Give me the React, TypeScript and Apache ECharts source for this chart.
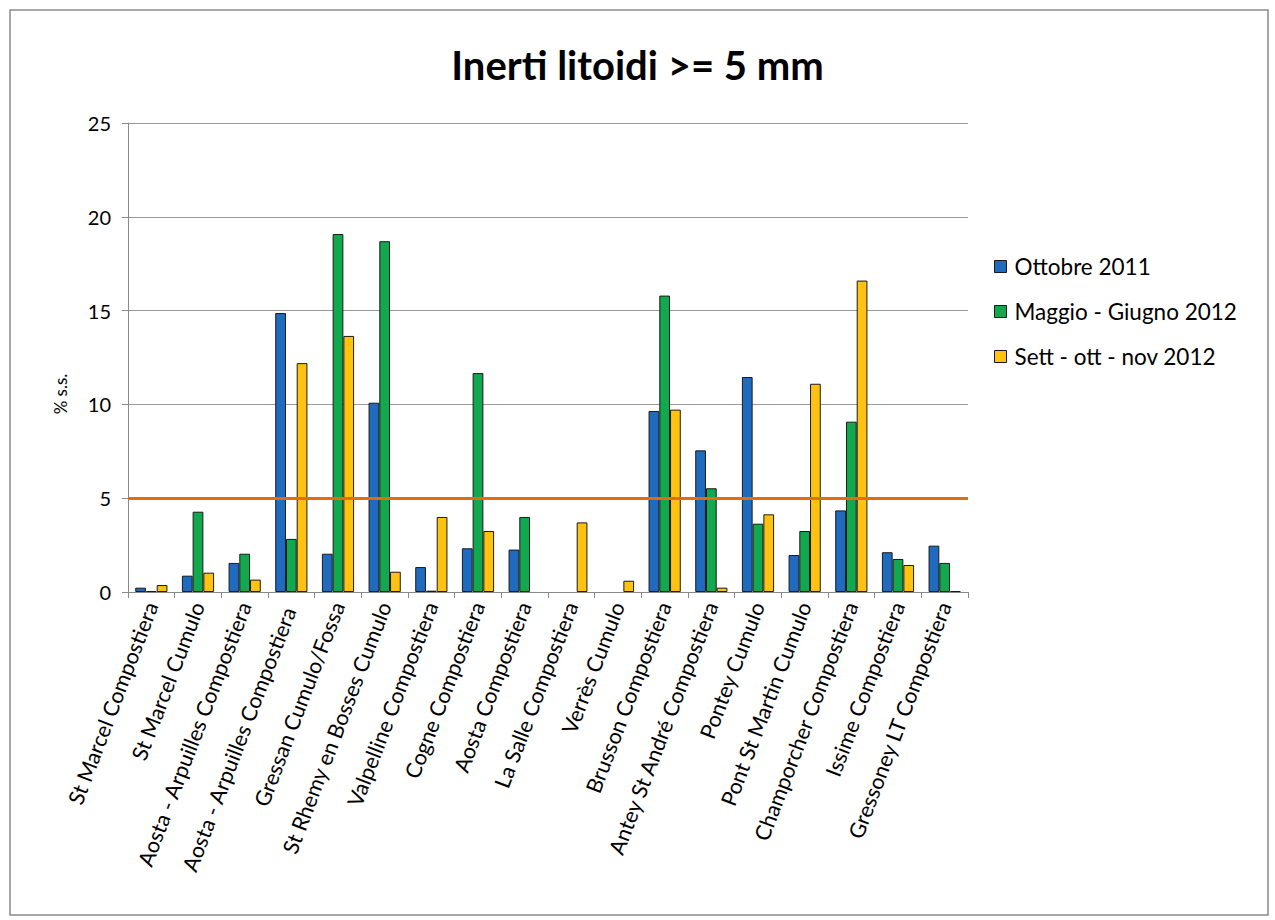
import React, { useEffect, useRef } from "react";
import * as echarts from "echarts";

const categories = [
  "St Marcel Compostiera",
  "St Marcel Cumulo",
  "Aosta - Arpuilles Compostiera",
  "Aosta - Arpuilles Compostiera ",
  "Gressan Cumulo/Fossa",
  "St Rhemy en Bosses Cumulo",
  "Valpelline Compostiera",
  "Cogne Compostiera",
  "Aosta Compostiera",
  "La Salle Compostiera",
  "Verrès Cumulo",
  "Brusson Compostiera",
  "Antey St André Compostiera",
  "Pontey Cumulo",
  "Pont St Martin Cumulo",
  "Champorcher Compostiera",
  "Issime Compostiera",
  "Gressoney LT Compostiera",
];

const ottobre2011 = [0.23, 0.87, 1.55, 14.87, 2.04, 10.09, 1.33, 2.33, 2.26, null, null, 9.65, 7.55, 11.46, 1.97, 4.35, 2.12, 2.47];
const maggioGiugno2012 = [0.05, 4.28, 2.04, 2.83, 19.08, 18.7, 0.07, 11.67, 4.0, null, null, 15.8, 5.53, 3.64, 3.25, 9.08, 1.76, 1.55];
const settOttNov2012 = [0.37, 1.03, 0.66, 12.2, 13.65, 1.08, 4.0, 3.25, null, 3.71, 0.6, 9.72, 0.23, 4.14, 11.1, 16.6, 1.44, 0.05];

const seriesNames = ["Ottobre 2011", "Maggio - Giugno 2012", "Sett - ott - nov 2012"];
const seriesColors = ["#1F6BC0", "#11A84E", "#FFC20E"];
const threshold = 5;
const yTicks = { min: 0, max: 25, interval: 5 };
const yAxisTitle = "% s.s.";

export default function App() {
  const ref = useRef<HTMLDivElement>(null);
  useEffect(() => {
    if (!ref.current) return;
    const chart = echarts.init(ref.current, null, { renderer: "svg" });
    const font = "Lato, 'Open Sans', sans-serif";
    const dataSets = [ottobre2011, maggioGiugno2012, settOttNov2012];
    chart.setOption({
      animation: false,
      backgroundColor: "#ffffff",
      textStyle: { fontFamily: font },
      title: {
        text: "Inerti litoidi >= 5 mm",
        left: "center",
        top: 40,
        textStyle: { fontFamily: font, fontSize: 40, fontWeight: "bold", color: "#000" },
      },
      graphic: [
        {
          type: "rect",
          shape: { x: 10, y: 10, width: 1258, height: 905 },
          style: { fill: "none", stroke: "#8a8a8a", lineWidth: 1.5 },
          silent: true,
        },
        {
          type: "text",
          x: 60,
          y: 394,
          rotation: Math.PI / 2,
          style: {
            text: yAxisTitle,
            fontFamily: font,
            fontSize: 17,
            fill: "#000",
            align: "center",
            verticalAlign: "middle",
          },
          silent: true,
        },
      ],
      legend: {
        orient: "vertical",
        left: 989,
        top: 250,
        itemGap: 22,
        itemWidth: 12,
        itemHeight: 12,
        icon: "rect",
        itemStyle: { borderColor: "#1a1a1a", borderWidth: 1 },
        textStyle: { fontFamily: font, fontSize: 22.5, color: "#000", padding: [0, 0, 0, 3] },
        data: seriesNames,
      },
      grid: { left: 128, right: 307, top: 123, bottom: 328 },
      xAxis: {
        type: "category",
        data: categories,
        axisLine: { lineStyle: { color: "#8a8a8a", width: 1 } },
        axisTick: { show: true, alignWithLabel: false, length: 6, lineStyle: { color: "#8a8a8a" } },
        axisLabel: {
          interval: 0,
          rotate: 69,
          fontSize: 21.5,
          color: "#000",
          fontFamily: font,
          margin: 11,
        },
      },
      yAxis: {
        type: "value",
        min: yTicks.min,
        max: yTicks.max,
        interval: yTicks.interval,
        axisLine: { show: true, lineStyle: { color: "#8a8a8a" } },
        axisTick: { show: true, length: 6, lineStyle: { color: "#8a8a8a" } },
        axisLabel: { fontSize: 20, color: "#000", fontFamily: font, margin: 17 },
        splitLine: { lineStyle: { color: "#9a9a9a", width: 1 } },
      },
      series: dataSets.map((d, i) => ({
        name: seriesNames[i],
        type: "bar",
        data: d,
        barGap: "0%",
        barCategoryGap: "31%",
        itemStyle: { color: seriesColors[i], borderColor: "#1a1a1a", borderWidth: 1 },
        ...(i === 2
          ? {
              markLine: {
                silent: true,
                symbol: "none",
                label: { show: false },
                lineStyle: { color: "#E46C0A", width: 3, type: "solid" },
                data: [{ yAxis: threshold }],
              },
            }
          : {}),
      })),
    });
    return () => chart.dispose();
  }, []);
  return (
    <div
      ref={ref}
      style={{ position: "fixed", left: 0, top: 0, width: 1275, height: 920 }}
    />
  );
}
